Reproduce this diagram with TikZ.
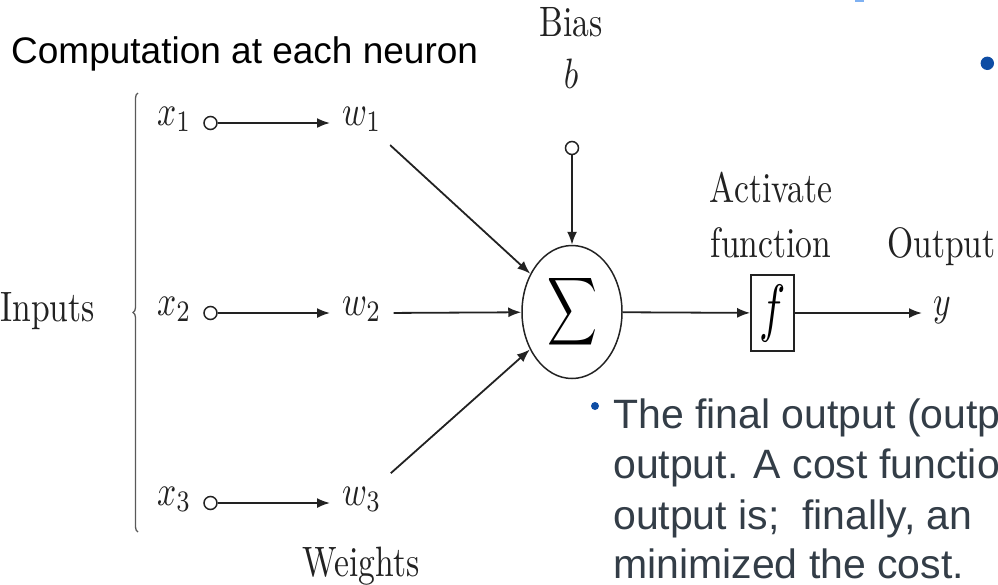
\documentclass[tikz,border=0pt]{standalone}
\usepackage{fontspec}
\usepackage{graphicx}
\usetikzlibrary{arrows.meta, positioning, shapes.geometric, calc, decorations.pathreplacing}
\newfontfamily\slidefont{Liberation Sans}
\definecolor{nnink}{HTML}{222222}
\definecolor{nnblue}{HTML}{0E4DA4}
\definecolor{nnsky}{HTML}{7FB1F2}
\definecolor{nnslate}{HTML}{333D47}
% labels are set at 10pt and stretched, like the scanned figure
\newcommand{\sq}[1]{\scalebox{3.36}[4.25]{#1}}

\begin{document}
\begin{tikzpicture}[x=1pt, y=-1pt,
  lbl/.style={font=\normalsize, text=nnink, inner sep=0pt},
  innode/.style={circle, draw=nnink, fill=white, line width=1.5pt, minimum size=13pt, inner sep=0pt},
  sumnode/.style={ellipse, draw=nnink, line width=1.5pt, minimum width=100pt, minimum height=133pt, inner sep=0pt},
  actbox/.style={rectangle, draw=nnink, line width=1.7pt, minimum width=43pt, minimum height=76pt, inner sep=0pt, font=\normalsize},
  arr/.style={-{Latex[length=13pt, width=10pt]}, line width=1.8pt, nnink},
  slidetxt/.style={font=\slidefont\fontsize{41}{50}\selectfont, text=nnslate, anchor=base west, inner sep=0pt},
  dot/.style={circle, fill=nnblue, inner sep=0pt},
]
\useasboundingbox (0,0) rectangle (998,584);
\clip (0,0) rectangle (998,584);

% Slide title and bullets
\node[font=\slidefont\fontsize{37}{44}\selectfont, anchor=base west, inner sep=0pt] (title) at (11,63) {Computation at each neuron};
\node[dot, minimum size=13.4pt] (dotA) at (987.3,63.3) {};
\fill[nnsky] (855,0) rectangle (864,1.5);

% Inputs
\node[lbl, anchor=base west] (inputs) at (0,321) {\sq{Inputs}};
\coordinate (braceTop) at (138,93);
\coordinate (braceBot) at (138,532);
\draw[decorate, decoration={brace, amplitude=5pt}, line width=1.3pt, nnink!75] (braceBot) -- (braceTop);

\node[lbl, anchor=base west] (x1) at (157,125) {\sq{$x_1$}};
\node[innode] (c1) at (210.5,123) {};
\node[lbl, anchor=base west] (w1) at (342,125) {\sq{$w_1$}};
\node[lbl, anchor=base west] (x2) at (157,315) {\sq{$x_2$}};
\node[innode] (c2) at (210.5,313) {};
\node[lbl, anchor=base west] (w2) at (342,315) {\sq{$w_2$}};
\node[lbl, anchor=base west] (x3) at (157,505) {\sq{$x_3$}};
\node[innode] (c3) at (210.5,503) {};
\node[lbl, anchor=base west] (w3) at (342,505) {\sq{$w_3$}};
\node[lbl, anchor=base] (weights) at (361,576) {\sq{Weights}};

\draw[arr, shorten >=12pt] (c1) -- (c1 -| w1.west);
\draw[arr, shorten >=12pt] (c2) -- (c2 -| w2.west);
\draw[arr, shorten >=12pt] (c3) -- (c3 -| w3.west);

% Summation and bias
\node[sumnode] (sum) at (572,312) {\resizebox*{50pt}{76pt}{$\displaystyle\sum$}};
\node[lbl, anchor=base] (biaslbl) at (571,36) {\sq{Bias}};
\node[lbl, anchor=base] (b) at (571,88) {\sq{$b$}};
\node[innode] (cb) at (572,148) {};
\draw[arr] (cb) -- (sum);

\draw[arr, shorten <=20pt] (w1) -- (sum);
\draw[arr, shorten <=12pt] (w2.east |- c2) -- (sum);
\draw[arr, shorten <=20pt] (w3) -- (sum);

% Activation and output
\node[lbl, anchor=base] (act) at (771,202) {\sq{Activate}};
\node[lbl, anchor=base] (fun) at (771,257) {\sq{function}};
\node[actbox] (fbox) at (772.5,313) {\scalebox{4.4}[6.4]{$f$}};
\node[lbl, anchor=base west] (outlbl) at (887,257) {\sq{Output}};
\node[lbl, anchor=base west] (yout) at (933,315) {\sq{$y$}};
\draw[arr] (sum) -- (fbox);
\draw[arr, shorten >=11pt] (fbox) -- (fbox -| yout.west);

% Slide text below
\node[dot, minimum size=8pt] (dotB) at (595,406) {};
\node[slidetxt] (line1) at (613,428) {The final output (outp};
\node[slidetxt] (line2) at (613,478.5) {output. A cost functio};
\node[slidetxt] (line3) at (613,529) {output is;\ \ finally, an};
\node[slidetxt] (line4) at (613,578) {minimized the cost.};
\end{tikzpicture}
\end{document}
